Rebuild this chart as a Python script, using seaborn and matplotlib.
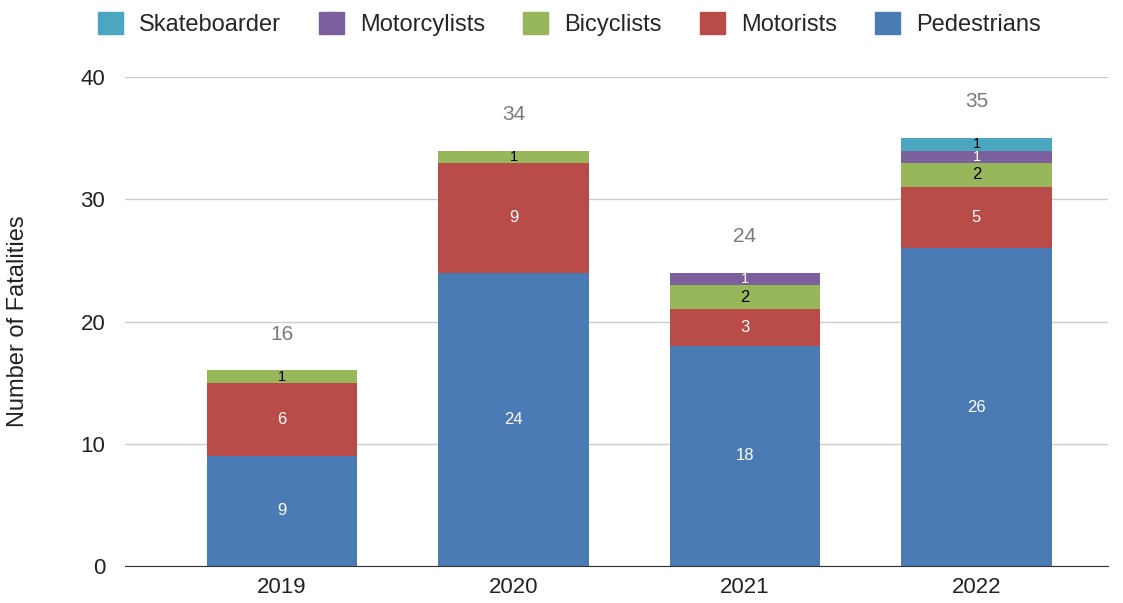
import numpy as np
import pandas as pd
import matplotlib
matplotlib.use('Agg')
import matplotlib.pyplot as plt
import seaborn as sns

sns.set_style('white')
plt.rcParams['font.family'] = ['Liberation Sans', 'DejaVu Sans']

# data
years = ['2019', '2020', '2021', '2022']
pedestrians = [9, 24, 18, 26]
motorists = [6, 9, 3, 5]
bicyclists = [1, 1, 2, 2]
motorcyclists = [0, 0, 1, 1]
skateboarder = [0, 0, 0, 1]

series = [
    ('Pedestrians', pedestrians, '#4a7bb5', 'white'),
    ('Motorists', motorists, '#b94b49', 'white'),
    ('Bicyclists', bicyclists, '#98b65a', 'black'),
    ('Motorcylists', motorcyclists, '#7c5f9d', 'white'),
    ('Skateboarder', skateboarder, '#4aa7bf', 'black'),
]

fig = plt.figure(figsize=(11.23, 6.03), dpi=100)
ax = fig.add_axes([0.111, 0.0614, 0.876, 0.8106])

bottom = np.zeros(len(years))
handles = []
for name, vals, color, tcol in series:
    df = pd.DataFrame({'year': years, 'n': vals})
    sns.barplot(data=df, x='year', y='n', color=color, bottom=bottom,
                width=0.65, ax=ax, saturation=1, linewidth=0)
    for i, v in enumerate(vals):
        if v > 0:
            ax.text(i, bottom[i] + v / 2, str(v), ha='center', va='center',
                    color=tcol, fontsize=12 if v > 1 else 10.5)
    handles.append(plt.Rectangle((0, 0), 1, 1, color=color, label=name))
    bottom = bottom + np.array(vals)

for i, t in enumerate(bottom):
    ax.text(i, t + 2.2, str(int(t)), ha='center', va='bottom',
            color='#7a7a7a', fontsize=15)

ax.set_ylim(0, 40)
ax.set_xlim(-0.68, 3.57)
ax.set_yticks([0, 10, 20, 30, 40])
ax.yaxis.grid(True, color='#cccccc', linewidth=1)
ax.set_axisbelow(True)
for s in ['top', 'right', 'left']:
    ax.spines[s].set_visible(False)
ax.spines['bottom'].set_color('#333333')
ax.tick_params(axis='both', labelsize=16, colors='#222222', length=0)
ax.tick_params(axis='y', pad=14)
ax.tick_params(axis='x', pad=8)
ax.set_xlabel('')
ax.set_ylabel('Number of Fatalities', fontsize=17, color='#222222')
ax.yaxis.set_label_coords(-0.097, 0.5)

fig.legend(handles=handles[::-1], loc='center', bbox_to_anchor=(0.507, 0.96),
           ncol=5, frameon=False, fontsize=17, handlelength=1.05, handleheight=1.05,
           columnspacing=1.6, handletextpad=0.7)

fig.savefig('out.png', dpi=100)
